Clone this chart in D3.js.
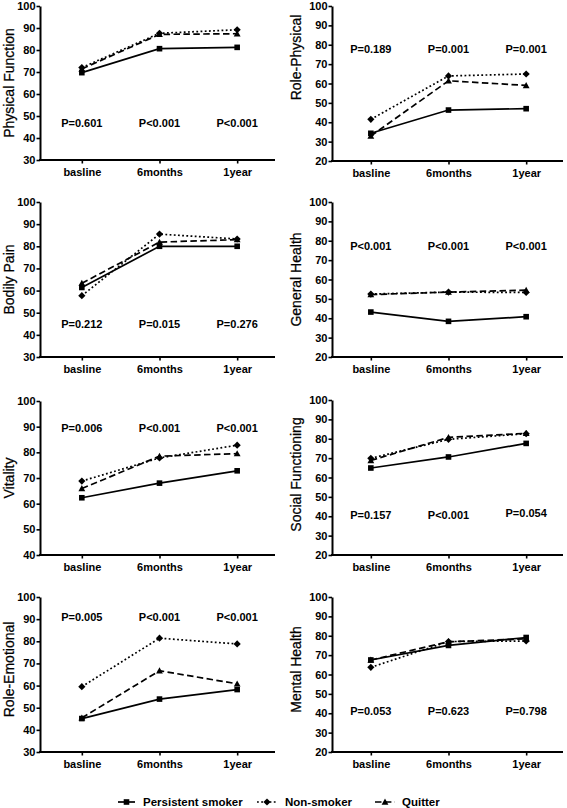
<!DOCTYPE html>
<html>
<head>
<meta charset="utf-8">
<script src="https://cdn.jsdelivr.net/npm/d3@7/dist/d3.min.js"></script>
<style>
  html, body { margin: 0; padding: 0; background: #fff; }
  svg { display: block; }
  text { font-family: "Liberation Sans", Arial, sans-serif; fill: #000; }
</style>
</head>
<body>
<svg id="chart" width="567" height="808"></svg>
<script>
// ---------------- DATA ----------------
const categories = ["basline", "6months", "1year"];
const seriesNames = ["Persistent smoker", "Non-smoker", "Quitter"];
const panelTitles = ["Physical Function", "Role-Physical", "Bodily Pain", "General Health",
                     "Vitality", "Social Functioning", "Role-Emotional", "Mental Health"];
const yMinValues = [30, 20, 30, 20, 40, 20, 30, 20];
const yMaxValues = [100, 100, 100, 100, 100, 100, 100, 100];

const persistentSmoker = [
  [69.7, 80.6, 81.2],
  [34.3, 46.3, 47.0],
  [61.4, 80.0, 80.0],
  [43.2, 38.4, 40.8],
  [62.3, 68.0, 72.8],
  [64.9, 70.6, 77.6],
  [45.1, 53.9, 58.2],
  [67.5, 75.0, 79.1]
];
const nonSmoker = [
  [72.0, 87.6, 89.2],
  [41.5, 63.9, 64.9],
  [57.7, 85.5, 83.3],
  [52.5, 53.5, 53.3],
  [68.8, 77.8, 82.8],
  [69.9, 79.7, 82.6],
  [59.5, 81.4, 78.8],
  [63.7, 77.0, 77.3]
];
const quitter = [
  [71.4, 87.1, 87.4],
  [32.9, 61.4, 59.0],
  [63.3, 81.9, 83.0],
  [52.2, 53.5, 54.5],
  [65.9, 78.5, 79.5],
  [68.8, 80.7, 82.8],
  [45.4, 66.7, 60.8],
  [67.5, 76.9, 78.4]
];
const pValueLabels = [
  ["P=0.601", "P<0.001", "P<0.001"],
  ["P=0.189", "P=0.001", "P=0.001"],
  ["P=0.212", "P=0.015", "P=0.276"],
  ["P<0.001", "P<0.001", "P<0.001"],
  ["P=0.006", "P<0.001", "P<0.001"],
  ["P=0.157", "P<0.001", "P=0.054"],
  ["P=0.005", "P<0.001", "P<0.001"],
  ["P=0.053", "P=0.623", "P=0.798"]
];
// vertical position of each P label, in axis units
const pValueY = [
  [46.7, 46.7, 46.7],
  [77.8, 77.8, 77.8],
  [44.9, 44.9, 44.9],
  [77.1, 77.1, 77.1],
  [89.6, 89.4, 89.4],
  [40.6, 40.6, 41.8],
  [90.9, 90.9, 90.9],
  [41.3, 41.3, 41.3]
];
const yTickStep = 10;

// ---------------- LAYOUT ----------------
const svg = d3.select("#chart");
const colAxisX = [40, 332];          // y-axis line x
const colAxisEnd = [275, 563];       // x-axis line end
const colRange = [[43, 276], [332, 565]];
const titleX = [9, 296];
const panelTop = [6, 6, 202, 202, 401, 400, 597, 597];
const panelBottom = [160, 161, 357, 357, 555, 555, 752, 752];
const titleShift = [0, -26, 0, 0, 0, -3, -5, -5];

const seriesData = [persistentSmoker, nonSmoker, quitter];
const dashes = [null, "1.8,2.4", "6.5,3.4"];
const lineWidth = 1.7;

function drawMarker(g, type, x, y) {
  if (type === 0) {
    g.append("rect").attr("x", x - 2.8).attr("y", y - 2.8).attr("width", 5.6).attr("height", 5.6).attr("fill", "#000");
  } else if (type === 1) {
    const s = 3.6;
    g.append("path").attr("d", `M${x},${y - s}L${x + s},${y}L${x},${y + s}L${x - s},${y}Z`).attr("fill", "#000");
  } else {
    const s = 3.4;
    g.append("path").attr("d", `M${x},${y - s}L${x + s},${y + s * 0.8}L${x - s},${y + s * 0.8}Z`).attr("fill", "#000");
  }
}

panelTitles.forEach((title, i) => {
  const col = i % 2;
  const g = svg.append("g");
  const x = d3.scalePoint().domain(categories).range(colRange[col]).padding(0.5);
  const y = d3.scaleLinear().domain([yMinValues[i], yMaxValues[i]]).range([panelBottom[i], panelTop[i]]);

  // y axis
  const yAxis = d3.axisLeft(y)
    .tickValues(d3.range(yMinValues[i], yMaxValues[i] + 0.1, yTickStep))
    .tickSize(3.5).tickSizeOuter(0).tickPadding(1)
    .tickFormat(d3.format("d"));
  const ya = g.append("g").attr("transform", `translate(${colAxisX[col]},0)`).call(yAxis);
  ya.select(".domain").attr("stroke-width", 2).attr("stroke", "#000");
  ya.selectAll(".tick line").attr("stroke-width", 1.6).attr("stroke", "#000");
  ya.selectAll(".tick text").attr("font-size", 11).attr("font-weight", "bold")
    .attr("font-family", "Liberation Sans, Arial, sans-serif").attr("fill", "#000");

  // x axis
  const xAxis = d3.axisBottom(x).tickSize(3.5).tickSizeOuter(0).tickPadding(5);
  const xa = g.append("g").attr("transform", `translate(0,${panelBottom[i]})`).call(xAxis);
  xa.select(".domain").remove();
  xa.append("line").attr("x1", colAxisX[col] - 1).attr("x2", colAxisEnd[col])
    .attr("y1", 0).attr("y2", 0).attr("stroke", "#000").attr("stroke-width", 2);
  xa.selectAll(".tick line").attr("stroke-width", 1.6).attr("stroke", "#000");
  xa.selectAll(".tick text").attr("font-size", 11).attr("font-weight", "bold")
    .attr("font-family", "Liberation Sans, Arial, sans-serif").attr("fill", "#000");

  // axis title
  const cy = (panelTop[i] + panelBottom[i]) / 2 + titleShift[i];
  g.append("text")
    .attr("transform", `translate(${titleX[col]},${cy}) rotate(-90)`)
    .attr("text-anchor", "middle").attr("dominant-baseline", "central")
    .attr("font-size", 14).attr("stroke", "#000").attr("stroke-width", 0.25).text(title);

  // series
  const line = d3.line().x((d, k) => x(categories[k])).y(d => y(d));
  seriesData.forEach((series, s) => {
    const vals = series[i];
    const p = g.append("path").datum(vals).attr("d", line)
      .attr("fill", "none").attr("stroke", "#000").attr("stroke-width", lineWidth);
    if (dashes[s]) p.attr("stroke-dasharray", dashes[s]);
    vals.forEach((v, k) => drawMarker(g, s, x(categories[k]), y(v)));
  });

  // p values
  pValueLabels[i].forEach((lab, k) => {
    g.append("text").attr("x", x(categories[k])).attr("y", y(pValueY[i][k]))
      .attr("text-anchor", "middle").attr("dominant-baseline", "central")
      .attr("font-size", 11).attr("font-weight", "bold").text(lab);
  });
});

// ---------------- LEGEND ----------------
const legendY = 802;
const legendLineX = [[118, 135], [257, 277], [375, 395]];
const legendTextX = [143, 285, 402];
const lg = svg.append("g");
seriesNames.forEach((name, s) => {
  const [a, b] = legendLineX[s];
  const l = lg.append("line").attr("x1", a).attr("x2", b).attr("y1", legendY).attr("y2", legendY)
    .attr("stroke", "#000").attr("stroke-width", lineWidth);
  if (dashes[s]) l.attr("stroke-dasharray", dashes[s]);
  drawMarker(lg, s, (a + b) / 2, legendY);
  lg.append("text").attr("x", legendTextX[s]).attr("y", legendY)
    .attr("dominant-baseline", "central").attr("font-size", 11.5).attr("font-weight", "bold").text(name);
});
</script>
</body>
</html>
